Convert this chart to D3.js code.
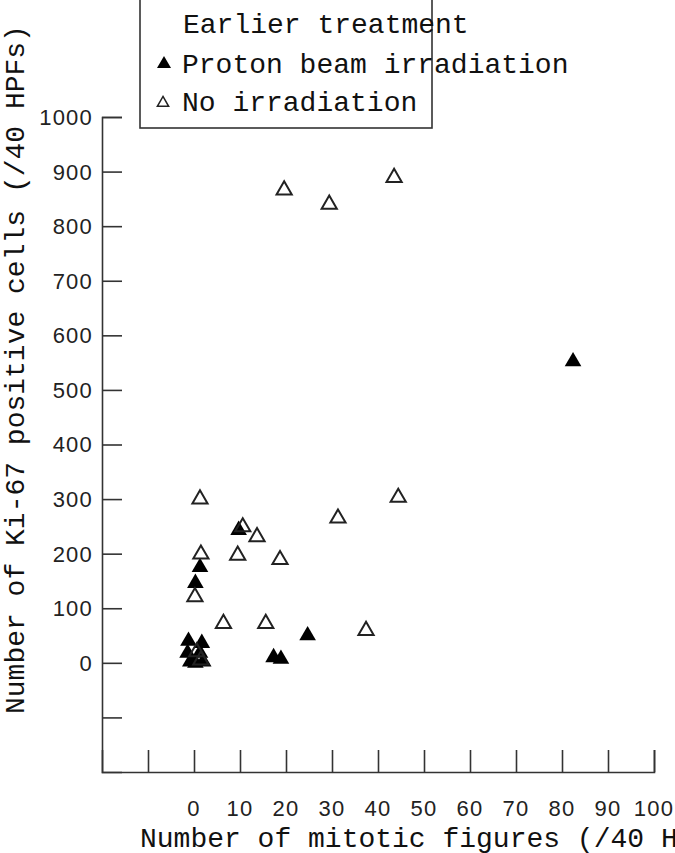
<!DOCTYPE html>
<html>
<head>
<meta charset="utf-8">
<script src="https://cdn.jsdelivr.net/npm/d3@7"></script>
<style>
  body { margin: 0; background: #fff; }
  svg { display: block; }
</style>
</head>
<body>
<div id="chart"></div>
<script>
// values
const xTicks = [-20, -10, 0, 10, 20, 30, 40, 50, 60, 70, 80, 90, 100];
const xTickLabels = ["", "", "0", "10", "20", "30", "40", "50", "60", "70", "80", "90", "100"];
const yTicks = [-200, -100, 0, 100, 200, 300, 400, 500, 600, 700, 800, 900, 1000];
const yTickLabels = ["", "", "0", "100", "200", "300", "400", "500", "600", "700", "800", "900", "1000"];

// Proton beam irradiation (filled)
const protonX = [-1.2, 1.7, -1.4, 1.3, -0.8, 2.0, 0.3, 0.3, 1.3, 9.7, 17.3, 18.9, 24.7, 82.4];
const protonY = [40, 36, 18, 18, 2, 2, 0, 146, 175, 243, 10, 7, 50, 552];

// No irradiation (open)
const noIrrX = [19.6, 29.4, 43.5, 1.3, 44.4, 31.3, 10.6, 13.7, 1.5, 9.5, 18.7, 0.2, 6.4, 15.6, 37.4, 0.6, 1.5];
const noIrrY = [866, 840, 889, 300, 303, 265, 249, 231, 199, 197, 189, 121, 72, 72, 59, 20, 5];

const width = 675, height = 853;
const tickFont = "'Liberation Sans', Arial, sans-serif";
const monoFont = "'Liberation Mono', 'Courier New', monospace";

const svg = d3.select("#chart").append("svg")
    .attr("width", width)
    .attr("height", height);

const x = d3.scaleLinear().domain([-20, 100]).range([102, 654]);
const y = d3.scaleLinear().domain([-200, 1000]).range([772, 117]);

// axes, ticks pointing inward
const xAxis = svg.append("g")
    .attr("transform", `translate(0,${y(-200)})`)
    .call(d3.axisTop(x).tickValues(xTicks).tickSize(22).tickFormat(""));
const yAxis = svg.append("g")
    .attr("transform", `translate(${x(-20)},0)`)
    .call(d3.axisRight(y).tickValues(yTicks).tickSize(20).tickFormat(""));
[xAxis, yAxis].forEach(g => {
    g.select(".domain").attr("stroke", "#333").attr("stroke-width", 1.6);
    g.selectAll(".tick line").attr("stroke", "#333").attr("stroke-width", 1.6);
});
// no tick on the corner
xAxis.selectAll(".tick").filter(d => d === -20).remove();
yAxis.selectAll(".tick").filter(d => d === -200).remove();

// tick labels
svg.append("g").selectAll("text")
    .data(xTicks.map((v, i) => ({v, t: xTickLabels[i]})).filter(d => d.t))
    .enter().append("text")
    .attr("x", d => x(d.v))
    .attr("y", 816)
    .attr("text-anchor", "middle")
    .attr("font-family", tickFont)
    .attr("font-size", 22)
    .attr("letter-spacing", 1.2)
    .attr("fill", "#222")
    .text(d => d.t);

svg.append("g").selectAll("text")
    .data(yTicks.map((v, i) => ({v, t: yTickLabels[i]})).filter(d => d.t))
    .enter().append("text")
    .attr("x", 93)
    .attr("y", d => y(d.v))
    .attr("dy", "0.36em")
    .attr("text-anchor", "end")
    .attr("font-family", tickFont)
    .attr("font-size", 22)
    .attr("letter-spacing", 1.2)
    .attr("fill", "#222")
    .text(d => d.t);

// axis titles (x title runs off the right edge, as in the original)
svg.append("text")
    .attr("x", 140)
    .attr("y", 847)
    .attr("font-family", monoFont)
    .attr("font-size", 28)
    .attr("fill", "#111")
    .text("Number of mitotic figures (/40 HPFs)");

svg.append("text")
    .attr("transform", "translate(24,714) rotate(-90)")
    .attr("font-family", monoFont)
    .attr("font-size", 28)
    .attr("fill", "#111")
    .text("Number of Ki-67 positive cells (/40 HPFs)");

// points
svg.append("g").selectAll("path")
    .data(protonX.map((v, i) => [v, protonY[i]]))
    .enter().append("path")
    .attr("d", d3.symbol().type(d3.symbolTriangle).size(120))
    .attr("transform", d => `translate(${x(d[0])},${y(d[1])})`)
    .attr("fill", "#000");

svg.append("g").selectAll("path")
    .data(noIrrX.map((v, i) => [v, noIrrY[i]]))
    .enter().append("path")
    .attr("d", d3.symbol().type(d3.symbolTriangle).size(100))
    .attr("transform", d => `translate(${x(d[0])},${y(d[1])})`)
    .attr("fill", "none")
    .attr("stroke", "#222")
    .attr("stroke-width", 2);

// legend
const legend = svg.append("g");
legend.append("rect")
    .attr("x", 140).attr("y", -2)
    .attr("width", 292).attr("height", 130)
    .attr("fill", "#fff")
    .attr("stroke", "#333")
    .attr("stroke-width", 1.6);
legend.append("text")
    .attr("x", 183).attr("y", 33)
    .attr("font-family", monoFont).attr("font-size", 28).attr("fill", "#111")
    .text("Earlier treatment");
legend.append("path")
    .attr("d", d3.symbol().type(d3.symbolTriangle).size(85))
    .attr("transform", "translate(164,64)")
    .attr("fill", "#000");
legend.append("text")
    .attr("x", 182).attr("y", 73)
    .attr("font-family", monoFont).attr("font-size", 28).attr("fill", "#111")
    .text("Proton beam irradiation");
legend.append("path")
    .attr("d", d3.symbol().type(d3.symbolTriangle).size(55))
    .attr("transform", "translate(163,103)")
    .attr("fill", "none")
    .attr("stroke", "#222")
    .attr("stroke-width", 1.5);
legend.append("text")
    .attr("x", 182).attr("y", 111)
    .attr("font-family", monoFont).attr("font-size", 28).attr("fill", "#111")
    .text("No irradiation");
</script>
</body>
</html>
